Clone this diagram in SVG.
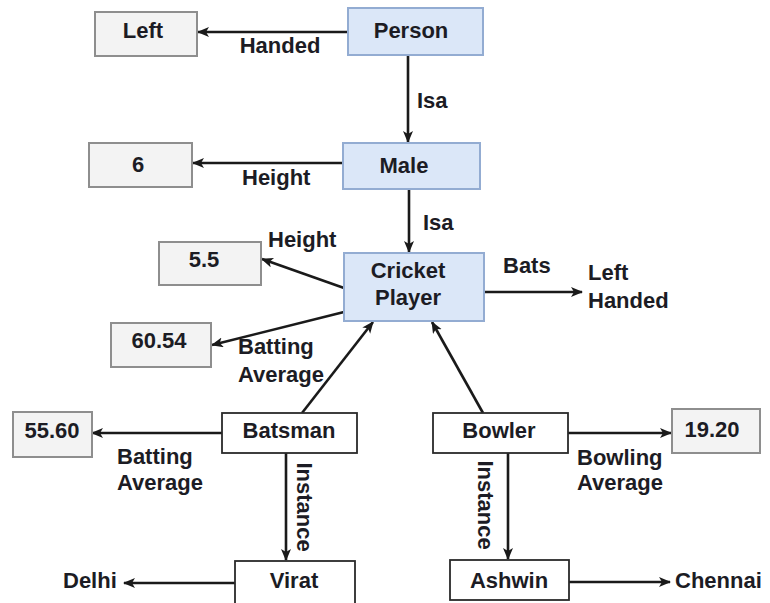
<svg xmlns="http://www.w3.org/2000/svg" width="770" height="603" viewBox="0 0 770 603">
  <style>
    text { font-family: "Liberation Sans", Arial, sans-serif; font-weight: bold; font-size: 22px; fill: #1c1c24; }
    .c { text-anchor: middle; }
    .blue { fill: #dbe7f8; stroke: #93acd2; stroke-width: 2; }
    .grey { fill: #f3f3f3; stroke: #8e8e8e; stroke-width: 2; }
    .plain { fill: #ffffff; stroke: #2a2a2a; stroke-width: 1.8; }
    .edge { fill: none; stroke: #1a1a1a; stroke-width: 2.6; marker-end: url(#arrow); }
  </style>
  <defs>
    <marker id="arrow" markerUnits="userSpaceOnUse" markerWidth="14" markerHeight="12" refX="11" refY="5" orient="auto">
      <path d="M0,0 L12,5 L0,10 L3,5 Z" fill="#1a1a1a"/>
    </marker>
  </defs>
  <rect width="770" height="603" fill="#ffffff"/>

  <!-- connectors -->
  <g id="connectors">
    <path class="edge" d="M348,32 H198"/>
    <path class="edge" d="M408,56 V142"/>
    <path class="edge" d="M343,163 H193"/>
    <path class="edge" d="M409,189 V252"/>
    <path class="edge" d="M344,288 L262,259"/>
    <path class="edge" d="M344,312 L212,345"/>
    <path class="edge" d="M484,292 H582"/>
    <path class="edge" d="M302,413 L373,322"/>
    <path class="edge" d="M483,413 L432,322"/>
    <path class="edge" d="M222,433 H92"/>
    <path class="edge" d="M286,453 V560"/>
    <path class="edge" d="M568,433 H671"/>
    <path class="edge" d="M508,453 V559"/>
    <path class="edge" d="M235,583 H124"/>
    <path class="edge" d="M569,582 H670"/>
    <!-- edge labels -->
    <text x="280" y="53" class="c">Handed</text>
    <text x="417" y="108">Isa</text>
    <text x="242" y="185">Height</text>
    <text x="423" y="230">Isa</text>
    <text x="268" y="247">Height</text>
    <text x="503" y="273">Bats</text>
    <text x="238" y="354">Batting</text>
    <text x="238" y="382">Average</text>
    <text x="117" y="464">Batting</text>
    <text x="117" y="490">Average</text>
    <text x="577" y="465">Bowling</text>
    <text x="577" y="490">Average</text>
    <text transform="translate(297,507) rotate(90)" class="c">Instance</text>
    <text transform="translate(478,505) rotate(90)" class="c">Instance</text>
  </g>

  <g id="person">
    <rect class="blue" x="348" y="8" width="135" height="47"/>
    <text x="411" y="38" class="c">Person</text>
  </g>
  <g id="left">
    <rect class="grey" x="95" y="12" width="102" height="44"/>
    <text x="143" y="38" class="c">Left</text>
  </g>
  <g id="male">
    <rect class="blue" x="343" y="143" width="137" height="46"/>
    <text x="404" y="173" class="c">Male</text>
  </g>
  <g id="height-6">
    <rect class="grey" x="89" y="143" width="103" height="44"/>
    <text x="138" y="172" class="c">6</text>
  </g>
  <g id="cricket-player">
    <rect class="blue" x="344" y="253" width="140" height="68"/>
    <text x="408" y="278" class="c">Cricket</text>
    <text x="408" y="305" class="c">Player</text>
  </g>
  <g id="height-5-5">
    <rect class="grey" x="159" y="242" width="102" height="43"/>
    <text x="204" y="267" class="c">5.5</text>
  </g>
  <g id="left-handed">
    <text x="588" y="280">Left</text>
    <text x="588" y="308">Handed</text>
  </g>
  <g id="avg-60-54">
    <rect class="grey" x="111" y="323" width="100" height="44"/>
    <text x="159" y="348" class="c">60.54</text>
  </g>
  <g id="batsman">
    <rect class="plain" x="222" y="413" width="135" height="40"/>
    <text x="289" y="438" class="c">Batsman</text>
  </g>
  <g id="avg-55-60">
    <rect class="grey" x="13" y="412" width="79" height="45"/>
    <text x="52" y="438" class="c">55.60</text>
  </g>
  <g id="bowler">
    <rect class="plain" x="433" y="413" width="135" height="40"/>
    <text x="499" y="438" class="c">Bowler</text>
  </g>
  <g id="avg-19-20">
    <rect class="grey" x="672" y="409" width="88" height="44"/>
    <text x="712" y="437" class="c">19.20</text>
  </g>
  <g id="virat">
    <rect class="plain" x="235" y="561" width="120" height="50"/>
    <text x="294" y="588" class="c">Virat</text>
  </g>
  <g id="delhi">
    <text x="63" y="588">Delhi</text>
  </g>
  <g id="ashwin">
    <rect class="plain" x="450" y="560" width="119" height="40"/>
    <text x="509" y="588" class="c">Ashwin</text>
  </g>
  <g id="chennai">
    <text x="675" y="588">Chennai</text>
  </g>
</svg>
